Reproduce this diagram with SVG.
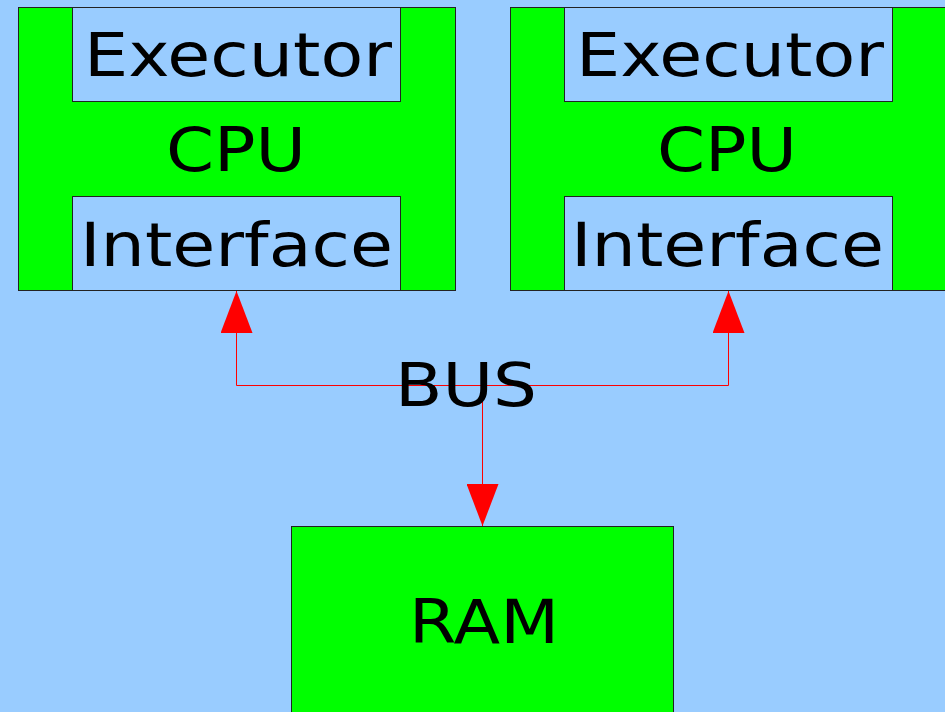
<svg xmlns="http://www.w3.org/2000/svg" width="945" height="712" viewBox="0 0 945 712">
<style>
.box{fill:#00ff00;stroke:#222;stroke-width:1}
.inner{fill:#99ccff;stroke:#222;stroke-width:1}
.t{font-family:"DejaVu Sans",sans-serif;font-size:60px;fill:#000}
.wire{fill:none;stroke:#ff0000;stroke-width:1}
</style>
<defs>
<marker id="ah" viewBox="0 0 42 32" refX="42" refY="16" markerWidth="42" markerHeight="32" markerUnits="userSpaceOnUse" orient="auto">
<path d="M0,0 L42,16 L0,32 Z" fill="#ff0000"/>
</marker>
</defs>
<rect width="945" height="712" fill="#99ccff"/>
<g id="cpu1">
<rect class="box" x="18.5" y="7.5" width="437" height="283"/>
<rect class="inner" x="72.5" y="7.5" width="328" height="94"/>
<rect class="inner" x="72.5" y="196.5" width="328" height="94"/>
<text class="t" x="84" y="76" textLength="308" lengthAdjust="spacingAndGlyphs">Executor</text>
<text class="t" x="166" y="171" textLength="140" lengthAdjust="spacingAndGlyphs">CPU</text>
<text class="t" x="80" y="266" textLength="313" lengthAdjust="spacingAndGlyphs">Interface</text>
</g>
<g id="cpu2">
<rect class="box" x="510.5" y="7.5" width="437" height="283"/>
<rect class="inner" x="564.5" y="7.5" width="328" height="94"/>
<rect class="inner" x="564.5" y="196.5" width="328" height="94"/>
<text class="t" x="576" y="76" textLength="308" lengthAdjust="spacingAndGlyphs">Executor</text>
<text class="t" x="657" y="171" textLength="140" lengthAdjust="spacingAndGlyphs">CPU</text>
<text class="t" x="571" y="266" textLength="313" lengthAdjust="spacingAndGlyphs">Interface</text>
</g>
<g id="ram">
<rect class="box" x="291.5" y="526.5" width="382" height="200"/>
<text class="t" x="409" y="643" textLength="150" lengthAdjust="spacingAndGlyphs">RAM</text>
</g>
<g id="connectors">
<path class="wire" d="M236.5,385.5 H728.5"/>
<path class="wire" d="M236.5,385.5 V291" marker-end="url(#ah)"/>
<path class="wire" d="M728.5,385.5 V291" marker-end="url(#ah)"/>
<path class="wire" d="M482.5,385.5 V526" marker-end="url(#ah)"/>
</g>
<g id="bus">
<text class="t" x="395" y="406" textLength="142" lengthAdjust="spacingAndGlyphs">BUS</text>
</g>
</svg>
